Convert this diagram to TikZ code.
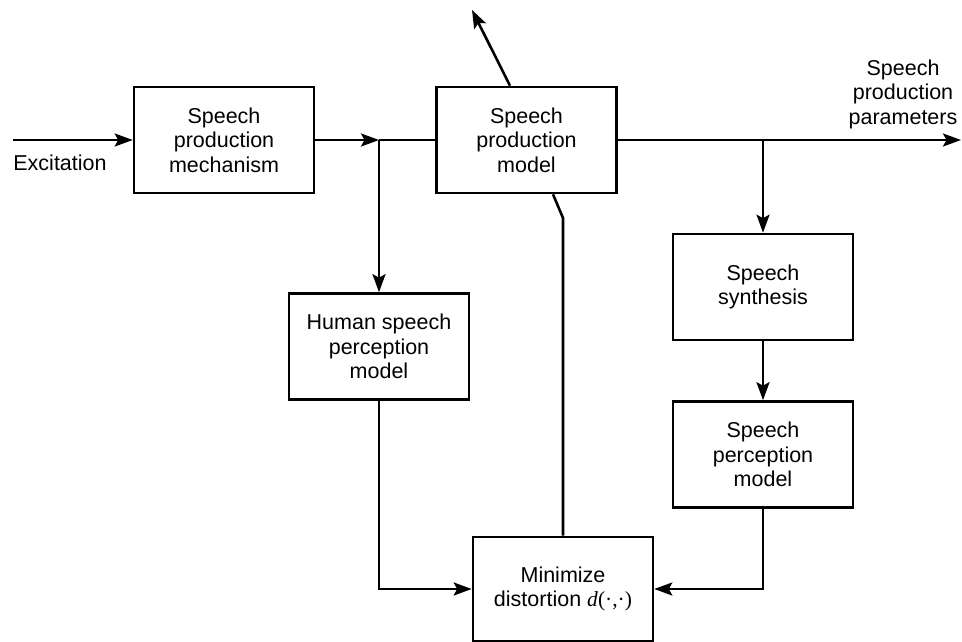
\documentclass[tikz,border=0pt]{standalone}
\usepackage{fontspec}
\setmainfont{Liberation Sans}
\newfontfamily\dserif{Liberation Serif}
\usetikzlibrary{arrows.meta}
\begin{document}
\begin{tikzpicture}[x=1pt,y=-1pt,
  every node/.style={font=\fontsize{21.5}{24.5}\selectfont},
  block/.style={draw,line width=2.6pt,minimum width=180pt,minimum height=106pt,
    align=center,inner sep=0pt},
  conn/.style={line width=2.6pt},
  arr/.style={conn,-{Stealth[length=18pt,width=13pt,inset=3.5pt]}}]
\useasboundingbox (0,0) rectangle (962,642);

% blocks
\node[block] (mech) at (224,140) {Speech\\production\\mechanism};
\node[block] (model) at (526.5,140) {Speech\\production\\model};
\node[block] (human) at (379,346.5) {Human speech\\perception\\model};
\node[block] (synth) at (763,287) {Speech\\synthesis};
\node[block] (perc) at (763,454.5) {Speech\\perception\\model};
\node[block,minimum height=104pt] (mind) at (563,589)
  {Minimize\\distortion {\dserif\itshape d\/}{\dserif(·,·)}};

% free ends and branch points
\coordinate (in) at (13,140);
\coordinate (j1) at (379,140);
\coordinate (j2) at (763,140);
\coordinate (out) at (961,140);
\coordinate (up) at (472,10);
\coordinate (bend) at (563,218);

% labels
\node (exc) at (60,163) {Excitation};
\node[align=center] (params) at (903,94) {Speech\\production\\parameters};

% connectors
\draw[arr] (in) -- (mech.west);
\draw[arr] (mech.east) -- (j1);
\draw[conn] (j1) -- (model.west);
\draw[arr] (j1) -- (human.north);
\draw[arr] (model.east) -- (out);
\draw[arr] (j2) -- (synth.north);
\draw[arr] (synth.south) -- (perc.north);
\draw[arr] ([xshift=-16.5pt]model.north) -- (up);
\draw[conn] ([xshift=26.5pt]model.south) -- (bend) -- (mind.north);
\draw[arr] (human.south) |- (mind.west);
\draw[arr] (perc.south) |- (mind.east);
\end{tikzpicture}
\end{document}
